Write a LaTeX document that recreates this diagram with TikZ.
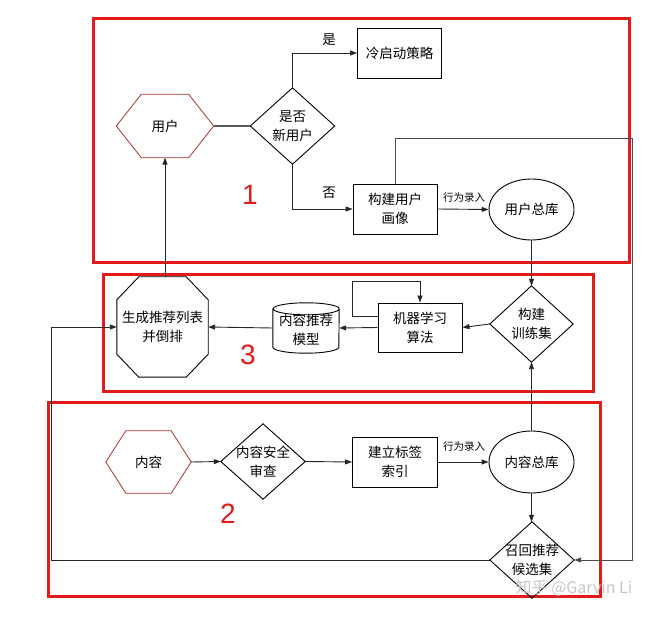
\documentclass[tikz,border=0pt]{standalone}
\usepackage{fontspec}
\setmainfont{Noto Sans CJK SC}
\newfontfamily\numfont{Liberation Sans}
\usetikzlibrary{arrows.meta,shapes.geometric}
\definecolor{redbox}{RGB}{226,26,26}
\definecolor{hexred}{RGB}{170,50,50}
\begin{document}
\begin{tikzpicture}[x=1pt,y=-1pt,
 every node/.style={font=\fontsize{13.5}{19}\selectfont, align=center, inner sep=0pt},
 blk/.style={draw=black, line width=0.9pt, minimum width=84pt, minimum height=50pt},
 ghost/.style={draw=none},
 conn/.style={draw=black!85, line width=0.9pt},
 arr/.style={conn, -{Triangle[length=7pt,width=5pt]}},
 region/.style={draw=redbox, line width=3pt},
 hexline/.style={draw=hexred, line width=0.8pt},
 shp/.style={draw=black, line width=0.9pt},
 small/.style={font=\fontsize{10.5}{12}\selectfont},
 num/.style={font=\numfont\fontsize{28}{30}\selectfont, text=redbox}
]
\useasboundingbox (0,0) rectangle (662,617);

% regions
\node[region, minimum width=536pt, minimum height=244pt, anchor=north west] (r1) at (92,17) {};
\node[region, minimum width=490pt, minimum height=117pt, anchor=north west] (r3) at (102,273) {};
\node[region, minimum width=552pt, minimum height=194pt, anchor=north west] (r2) at (47,401) {};

% section 1
\node[ghost, minimum width=97pt, minimum height=63pt] (user) at (165,126) {用户};
\draw[hexline] (user.west) -- ([xshift=25pt]user.north west) -- ([xshift=-25pt]user.north east) -- (user.east) -- ([xshift=-25pt]user.south east) -- ([xshift=25pt]user.south west) -- cycle;
\node[ghost, minimum width=84pt, minimum height=76pt] (newq) at (292.5,126) {是否\\新用户};
\draw[shp] (newq.north) -- (newq.east) -- (newq.south) -- (newq.west) -- cycle;
\node[blk] (cold) at (399.5,53) {冷启动策略};
\node[blk] (profile) at (395,209) {构建用户\\画像};
\node[shp, ellipse, minimum width=85pt, minimum height=61pt] (userdb) at (531.5,209.5) {用户总库};
\node (yes) at (329,40) {是};
\node (no) at (329,193) {否};
\node[small] (rec1) at (464,198) {行为录入};
\node[num] (n1) at (250,195) {1};

% section 3
\node[ghost, minimum width=91pt, minimum height=100pt] (gen) at (162.5,327) {生成推荐列表\\并倒排};
\draw[shp] ([xshift=22pt]gen.north west) -- ([xshift=-22pt]gen.north east) -- ([yshift=-23pt]gen.north east) -- ([yshift=23pt]gen.south east) -- ([xshift=-22pt]gen.south east) -- ([xshift=22pt]gen.south west) -- ([yshift=23pt]gen.south west) -- ([yshift=-23pt]gen.north west) -- cycle;
\node[ghost, minimum width=66pt, minimum height=50pt] (model) at (306,328) {\\[-4pt]内容推荐\\模型};
\draw[shp] ([yshift=-6pt]model.north west) -- ([yshift=6pt]model.south west) arc[start angle=180, end angle=360, x radius=33pt, y radius=6pt] -- ([yshift=-6pt]model.north east) arc[start angle=0, end angle=180, x radius=33pt, y radius=6pt] arc[start angle=180, end angle=360, x radius=33pt, y radius=6pt];
\node[blk, minimum height=49pt] (ml) at (420,327.5) {机器学习\\算法};
\node[ghost, minimum width=83pt, minimum height=76pt] (train) at (531.5,324) {构建\\训练集};
\draw[shp] (train.north) -- (train.east) -- (train.south) -- (train.west) -- cycle;
\node[num] (n3) at (248,355) {3};

% section 2
\node[ghost, minimum width=85pt, minimum height=62pt] (content) at (148.5,462) {内容};
\draw[hexline] (content.west) -- ([xshift=20pt]content.north west) -- ([xshift=-20pt]content.north east) -- (content.east) -- ([xshift=-20pt]content.south east) -- ([xshift=20pt]content.south west) -- cycle;
\node[ghost, minimum width=84pt, minimum height=75pt] (review) at (263,461.5) {内容安全\\审查};
\draw[shp] (review.north) -- (review.east) -- (review.south) -- (review.west) -- cycle;
\node[blk, minimum width=85pt] (tagidx) at (395,462) {建立标签\\索引};
\node[shp, ellipse, minimum width=85pt, minimum height=62pt] (contentdb) at (531.5,462) {内容总库};
\node[ghost, minimum width=84pt, minimum height=76pt] (recall) at (532,560) {召回推荐\\候选集};
\draw[shp] (recall.north) -- (recall.east) -- (recall.south) -- (recall.west) -- cycle;
\node[small] (rec2) at (464,447) {行为录入};
\node[num] (n2) at (228,514) {2};

% connectors
\draw[conn, draw=black!65, line width=1.1pt] (user.east) -- (newq.west);
\draw[arr] (newq.north) |- (cold.west);
\draw[arr] (newq.south) |- (profile.west);
\draw[arr] (profile.east) -- (userdb.west);
\coordinate (rt) at (632,138);
\draw[arr, draw=black!70] (profile.north) |- (rt) |- (recall.east);
\draw[arr] (userdb.south) -- (train.north);
\draw[arr] (train.west) -- (ml.east);
\draw[arr] ([yshift=11.5pt]ml.west) -- ++(-25,0) -- ++(0,-35) -| (ml.north);
\draw[arr] (ml.west) -- (model.east);
\draw[arr] (model.west) -- (gen.east);
\draw[arr] (gen.north -| user.south) -- (user.south);
\draw[arr] (content.east) -- (review.west);
\draw[arr] (review.east) -- (tagidx.west);
\draw[arr] (tagidx.east) -- (contentdb.west);
\draw[arr] (contentdb.north) -- (train.south);
\draw[arr] (contentdb.south) -- (contentdb.south |- recall.north);
\draw[arr] (recall.west) -- ++(-438,0) |- (gen.west);

% watermark
\node[font=\fontsize{16}{16}\selectfont, text=black!22] (wm) at (574,588) {知乎 @Garvin Li};
\end{tikzpicture}
\end{document}
